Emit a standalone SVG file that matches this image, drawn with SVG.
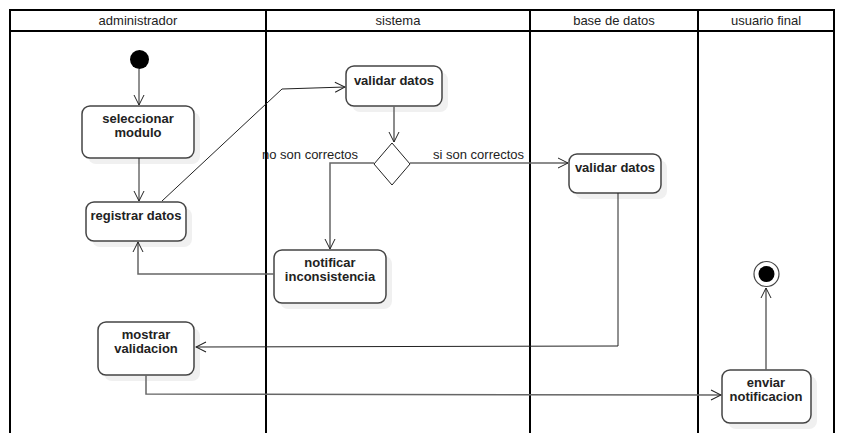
<svg xmlns="http://www.w3.org/2000/svg" width="844" height="444" viewBox="0 0 844 444">
<defs>
<style>
.lane{stroke:#000;stroke-width:2;fill:none}
.hdr{font-family:"Liberation Sans",Arial,sans-serif;font-size:13px;fill:#222;text-anchor:middle}
.node{fill:#fff;stroke:#444;stroke-width:1.5}
.shadow{fill:#f0f0f0;stroke:none}
.lbl{font-family:"Liberation Sans",Arial,sans-serif;font-size:13px;font-weight:bold;fill:#222;text-anchor:middle}
.edge{fill:none;stroke:#666;stroke-width:1.5}
.thin{fill:none;stroke:#222;stroke-width:1}
.elbl{font-family:"Liberation Sans",Arial,sans-serif;font-size:13px;fill:#222}
</style>
<marker id="arr" viewBox="0 0 12 12" refX="11" refY="6" markerWidth="12" markerHeight="12" markerUnits="userSpaceOnUse" orient="auto">
<path d="M1,1 L11,6 L1,11" fill="none" stroke="#222" stroke-width="1"/>
</marker>
</defs>
<rect width="844" height="444" fill="#fff"/>
<g id="lanes">
<text class="elbl" x="262" y="159">no son correctos</text>
<path class="lane" d="M10,433 V10 H834 V433 M10,31 H834 M266,10 V433 M530,10 V433 M698,10 V433"/>
<text class="hdr" x="138" y="25">administrador</text>
<text class="hdr" x="398" y="25">sistema</text>
<text class="hdr" x="614" y="25">base de datos</text>
<text class="hdr" x="766" y="25">usuario final</text>
</g>
<g id="start"><circle cx="139.5" cy="59.5" r="9.5" fill="#000"/></g>
<g id="seleccionar">
<rect class="shadow" x="88" y="112" width="112" height="52" rx="8"/>
<rect class="node" x="82" y="106" width="112" height="52" rx="8"/>
<text class="lbl" x="138" y="123">seleccionar</text>
<text class="lbl" x="138" y="137">modulo</text>
</g>
<g id="registrar">
<rect class="shadow" x="92" y="208" width="100" height="39" rx="8"/>
<rect class="node" x="86" y="202" width="100" height="39" rx="8"/>
<text class="lbl" x="136" y="220">registrar datos</text>
</g>
<g id="validar-sistema">
<rect class="shadow" x="352" y="72" width="96" height="40" rx="8"/>
<rect class="node" x="346" y="66" width="96" height="40" rx="8"/>
<text class="lbl" x="394" y="85">validar datos</text>
</g>
<g id="decision">
<path d="M392,143 L410,164 L392,185 L374,164 Z" fill="#fff" stroke="#222" stroke-width="1"/>
</g>
<g id="validar-bd">
<rect class="shadow" x="575" y="160" width="92" height="39" rx="8"/>
<rect class="node" x="569" y="154" width="92" height="39" rx="8"/>
<text class="lbl" x="615" y="172">validar datos</text>
</g>
<g id="notificar">
<rect class="shadow" x="280" y="256" width="112" height="53" rx="8"/>
<rect class="node" x="274" y="250" width="112" height="53" rx="8"/>
<text class="lbl" x="330" y="267">notificar</text>
<text class="lbl" x="330" y="281">inconsistencia</text>
</g>
<g id="mostrar">
<rect class="shadow" x="104" y="328" width="96" height="53" rx="8"/>
<rect class="node" x="98" y="322" width="96" height="53" rx="8"/>
<text class="lbl" x="146" y="339">mostrar</text>
<text class="lbl" x="146" y="353">validacion</text>
</g>
<g id="enviar">
<rect class="shadow" x="728" y="376" width="89" height="53" rx="8"/>
<rect class="node" x="722" y="370" width="89" height="53" rx="8"/>
<text class="lbl" x="766" y="387">enviar</text>
<text class="lbl" x="766" y="401">notificacion</text>
</g>
<g id="end">
<circle cx="766.5" cy="274" r="12.5" fill="#fff" stroke="#444" stroke-width="1.2"/>
<circle cx="766.5" cy="274" r="8" fill="#000"/>
</g>
<g id="connectors">
<path class="thin" d="M139,69 V105" marker-end="url(#arr)"/>
<path class="thin" d="M139,158 V201" marker-end="url(#arr)"/>
<path class="thin" d="M162,201 L282,89 L345,87" marker-end="url(#arr)"/>
<path class="edge" d="M394,106 V142" marker-end="url(#arr)"/>
<path class="edge" d="M374,163 H330 V249" marker-end="url(#arr)"/>
<path class="edge" d="M410,163 H568" marker-end="url(#arr)"/>
<text class="elbl" x="433" y="159">si son correctos</text>
<path class="edge" d="M274,274 H138 V242" marker-end="url(#arr)"/>
<path class="thin" d="M618,193 V346 L196,347" marker-end="url(#arr)"/>
<path class="edge" d="M146,375 V394 L721,395" marker-end="url(#arr)"/>
<path class="edge" d="M766,370 V288" marker-end="url(#arr)"/>
</g>
</svg>
